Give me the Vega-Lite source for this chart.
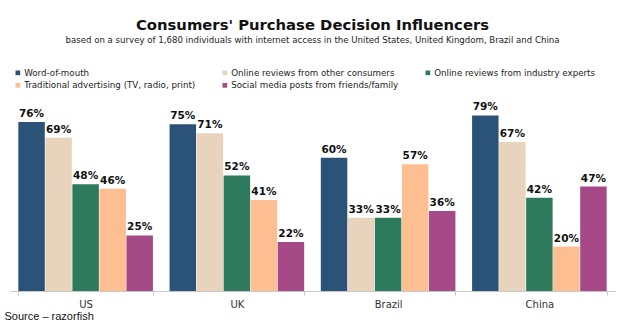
{
  "$schema": "https://vega.github.io/schema/vega-lite/v6.json",
  "width": 605,
  "height": 200,
  "autosize": {"type": "none"},
  "padding": {"left": 10, "top": 91, "right": 12, "bottom": 35},
  "background": "white",
  "title": {
    "text": "Consumers' Purchase Decision Influencers",
    "subtitle": "based on a survey of 1,680 individuals with internet access in the United States, United Kingdom, Brazil and China",
    "font": "DejaVu Sans",
    "fontSize": 14.8,
    "fontWeight": "bold",
    "color": "#111111",
    "subtitleFont": "DejaVu Sans",
    "subtitleFontSize": 8.6,
    "subtitleColor": "#222222",
    "subtitlePadding": 4,
    "anchor": "middle",
    "offset": 23
  },
  "config": {
    "view": {"stroke": null},
    "font": "DejaVu Sans"
  },
  "data": {
    "values": [
      {"country": "US", "influencer": "Word-of-mouth", "share": 0.76},
      {"country": "US", "influencer": "Online reviews from other consumers", "share": 0.69},
      {"country": "US", "influencer": "Online reviews from industry experts", "share": 0.48},
      {"country": "US", "influencer": "Traditional advertising (TV, radio, print)", "share": 0.46},
      {"country": "US", "influencer": "Social media posts from friends/family", "share": 0.25},
      {"country": "UK", "influencer": "Word-of-mouth", "share": 0.75},
      {"country": "UK", "influencer": "Online reviews from other consumers", "share": 0.71},
      {"country": "UK", "influencer": "Online reviews from industry experts", "share": 0.52},
      {"country": "UK", "influencer": "Traditional advertising (TV, radio, print)", "share": 0.41},
      {"country": "UK", "influencer": "Social media posts from friends/family", "share": 0.22},
      {"country": "Brazil", "influencer": "Word-of-mouth", "share": 0.60},
      {"country": "Brazil", "influencer": "Online reviews from other consumers", "share": 0.33},
      {"country": "Brazil", "influencer": "Online reviews from industry experts", "share": 0.33},
      {"country": "Brazil", "influencer": "Traditional advertising (TV, radio, print)", "share": 0.57},
      {"country": "Brazil", "influencer": "Social media posts from friends/family", "share": 0.36},
      {"country": "China", "influencer": "Word-of-mouth", "share": 0.79},
      {"country": "China", "influencer": "Online reviews from other consumers", "share": 0.67},
      {"country": "China", "influencer": "Online reviews from industry experts", "share": 0.42},
      {"country": "China", "influencer": "Traditional advertising (TV, radio, print)", "share": 0.20},
      {"country": "China", "influencer": "Social media posts from friends/family", "share": 0.47}
    ]
  },
  "encoding": {
    "x": {
      "field": "country",
      "type": "nominal",
      "sort": ["US", "UK", "Brazil", "China"],
      "scale": {"paddingInner": 0.11, "paddingOuter": 0.055},
      "axis": {
        "title": "Source – razorfish",
        "titleAnchor": "start",
        "titleAlign": "left",
        "titleX": -6,
        "titleY": 19,
        "titleFont": "Liberation Sans",
        "titleFontSize": 11,
        "titleFontWeight": "normal",
        "titleColor": "#111111",
        "labelAngle": 0,
        "labelFontSize": 10,
        "labelColor": "#333333",
        "labelPadding": 4,
        "domainColor": "#c8c8c8",
        "tickColor": "#c8c8c8",
        "tickBand": "extent",
        "tickSize": 4,
        "ticks": true
      }
    },
    "xOffset": {
      "field": "influencer",
      "type": "nominal",
      "sort": ["Word-of-mouth", "Online reviews from other consumers", "Online reviews from industry experts", "Traditional advertising (TV, radio, print)", "Social media posts from friends/family"],
      "scale": {"paddingInner": 0.02, "paddingOuter": 0}
    },
    "y": {
      "field": "share",
      "type": "quantitative",
      "scale": {"domain": [0, 0.9]},
      "axis": null
    }
  },
  "layer": [
    {
      "mark": {"type": "bar"},
      "encoding": {
        "color": {
          "field": "influencer",
          "type": "nominal",
          "sort": ["Word-of-mouth", "Online reviews from other consumers", "Online reviews from industry experts", "Traditional advertising (TV, radio, print)", "Social media posts from friends/family"],
          "scale": {
            "domain": ["Word-of-mouth", "Online reviews from other consumers", "Online reviews from industry experts", "Traditional advertising (TV, radio, print)", "Social media posts from friends/family"],
            "range": ["#2b5377", "#e8d3bd", "#2d7b5c", "#fdbf92", "#a54a86"]
          },
          "legend": {
            "title": null,
            "orient": "none",
            "legendX": 3.5,
            "legendY": -23,
            "direction": "horizontal",
            "columns": 3,
            "columnPadding": 25,
            "rowPadding": 3,
            "symbolType": "square",
            "symbolSize": 22,
            "symbolStrokeWidth": 0,
            "labelFont": "DejaVu Sans",
            "labelFontSize": 8.7,
            "labelLimit": 300,
            "labelColor": "#222222",
            "labelOffset": 2
          }
        }
      }
    },
    {
      "mark": {"type": "text", "baseline": "bottom", "dy": -3, "fontWeight": "bold", "fontSize": 10.5, "color": "#111111"},
      "encoding": {
        "text": {"field": "share", "type": "quantitative", "format": ".0%"},
        "detail": {"field": "influencer"}
      }
    }
  ]
}
